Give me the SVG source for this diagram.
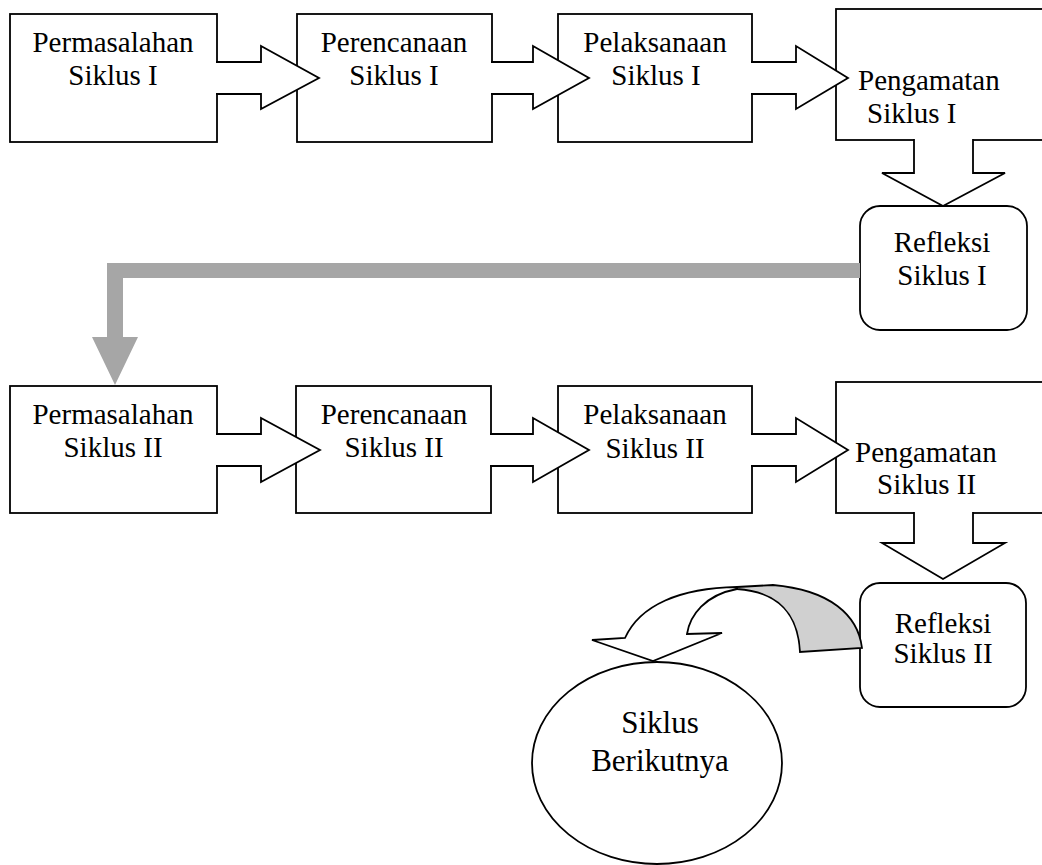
<svg xmlns="http://www.w3.org/2000/svg" width="1042" height="865" viewBox="0 0 1042 865">
<style>
.box{fill:#fff;stroke:#000;stroke-width:1.8}
.arr{fill:#fff;stroke:#000;stroke-width:1.8;stroke-linejoin:miter}
.t{font-family:"Liberation Serif","Times New Roman",serif;font-size:29px;fill:#000}
.c{text-anchor:middle}
.big{font-size:31px}
</style>
<rect width="1042" height="865" fill="#fff"/>
<g id="permasalahan1"><rect class="box" x="10" y="14" width="207" height="128"/>
<text class="t c" x="113" y="52">Permasalahan</text><text class="t c" x="113" y="85">Siklus I</text></g>
<g id="perencanaan1"><rect class="box" x="297" y="14" width="195" height="128"/>
<text class="t c" x="394" y="52">Perencanaan</text><text class="t c" x="394" y="85">Siklus I</text></g>
<g id="pelaksanaan1"><rect class="box" x="558" y="14" width="194" height="128"/>
<text class="t c" x="655" y="52">Pelaksanaan</text><text class="t c" x="656" y="85">Siklus I</text></g>
<g id="pengamatan1"><rect class="box" x="836" y="9" width="220" height="131"/>
<text class="t" x="858" y="90">Pengamatan</text><text class="t" x="867" y="123">Siklus I</text></g>
<g id="refleksi1"><rect class="box" x="860" y="206" width="167" height="124" rx="20"/>
<text class="t c" x="942" y="252">Refleksi</text><text class="t c" x="942" y="285">Siklus I</text></g>
<g id="permasalahan2"><rect class="box" x="10" y="386" width="207" height="127"/>
<text class="t c" x="113" y="424">Permasalahan</text><text class="t c" x="113" y="457">Siklus II</text></g>
<g id="perencanaan2"><rect class="box" x="296" y="386" width="195" height="127"/>
<text class="t c" x="394" y="424">Perencanaan</text><text class="t c" x="394" y="457">Siklus II</text></g>
<g id="pelaksanaan2"><rect class="box" x="558" y="386" width="194" height="127"/>
<text class="t c" x="655" y="424">Pelaksanaan</text><text class="t c" x="655" y="458">Siklus II</text></g>
<g id="pengamatan2"><rect class="box" x="836" y="382" width="220" height="131"/>
<text class="t" x="855" y="462">Pengamatan</text><text class="t" x="877" y="494">Siklus II</text></g>
<g id="refleksi2"><rect class="box" x="860" y="583" width="166" height="124" rx="20"/>
<text class="t c" x="943" y="633">Refleksi</text><text class="t c" x="943" y="663">Siklus II</text></g>
<g id="siklus-berikutnya"><ellipse class="box" cx="657" cy="763" rx="125" ry="101"/>
<text class="t c big" x="660" y="733">Siklus</text><text class="t c big" x="660" y="771">Berikutnya</text></g>
<g id="connectors">
<path class="arr" d="M216,62 H261 V46 L319,78 L261,109 V94 H216"/>
<path class="arr" d="M491,62 H533 V46 L589,78 L533,109 V94 H491"/>
<path class="arr" d="M751,62 H796 V46 L848,78 L796,109 V94 H751"/>
<path class="arr" d="M914,139 V173 H882 L943,206 L1005,173 H973 V139"/>
<path d="M860,263 H107 V337 H92 L115,385 L138,337 H123 V278 H860 Z" fill="#a6a6a6"/>
<path class="arr" d="M216,434 H261 V418 L320,450 L261,482 V466 H216"/>
<path class="arr" d="M490,434 H533 V418 L589,450 L533,482 V466 H490"/>
<path class="arr" d="M751,434 H796 V418 L848,450 L796,482 V466 H751"/>
<path class="arr" d="M914,512 V543 H882 L943,579 L1005,543 H973 V512"/>
<path class="arr" d="M737,587 C680,588 640,605 625,638 L592,640 L653,661 L722,633 L687,634 C690,615 705,595 737,589 Z"/>
<path d="M737,587 L773,585 C830,590 858,615 862,648 L800,652 C798,615 780,592 737,589 Z" fill="#d0d0d0" stroke="#000" stroke-width="1.8"/>
</g>
</svg>
